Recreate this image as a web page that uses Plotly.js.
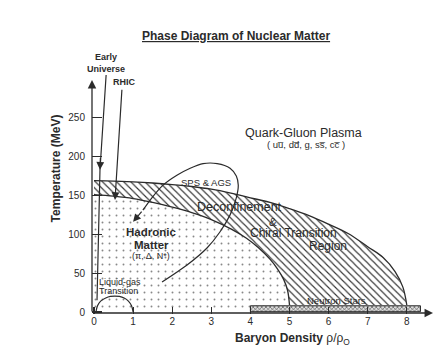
<!DOCTYPE html>
<html>
<head>
<meta charset="utf-8">
<script src="https://cdn.plot.ly/plotly-3.0.1.min.js"></script>
<style>html,body{margin:0;padding:0;background:#fff;}#chart{width:436px;height:348px;}</style>
</head>
<body>
<div id="chart"></div>
<script>
// ---- data (rho/rho0, T in MeV) ----
var outerRho = [0, 0.5, 1.0, 1.5, 2.0, 2.5, 3.0, 3.5, 4.0, 4.5, 5.0, 5.5, 6.0, 6.5, 7.0, 7.4, 7.7, 7.9, 8.0];
var outerT   = [169, 168.5, 167.5, 166, 164, 161.5, 158, 153, 147, 141, 133, 124, 113, 101, 84, 70, 52, 32, 9];
var innerRho = [0, 0.5, 1.0, 1.5, 2.0, 2.5, 3.0, 3.5, 3.9, 4.2, 4.5, 4.7, 4.85, 4.95, 5.0];
var innerT   = [151, 149, 146, 141, 135, 128, 119, 107, 95, 83, 68, 55, 42, 28, 9];
var lgRho = [0.05, 0.09, 0.17, 0.3, 0.42, 0.53, 0.65, 0.77, 0.88, 0.96, 1.0];
var lgT   = [0, 8, 14, 18, 20, 20.5, 20, 18, 14, 8, 0];
var spsRho = [1.74, 2.38, 2.89, 3.22, 3.48, 3.64, 3.69, 3.64, 3.48, 3.15, 2.79, 2.46, 2.12, 1.76, 1.48, 1.25];
var spsT   = [38.6, 60.5, 82.4, 103, 125, 147, 163, 175, 185, 191, 191, 185, 176, 163, 147, 131];
var spsTip = [1.0, 116];
var euRho = [0.31, 0.153, 0.077];
var euT   = [305, 183, 15];
var rhicFrom = [0.716, 288];
var rhicTo   = [0.537, 144];
var nsRho = [4.0, 8.35];
var nsT   = [0.4, 8];
var xTicks = [0, 1, 2, 3, 4, 5, 6, 7, 8];
var yTicks = [0, 50, 100, 150, 200, 250];

var ink = '#2b2b2b';
var F = 'Liberation Sans, Arial, sans-serif';

// polygons built from the arrays
var bandX = outerRho.concat(innerRho.slice().reverse());
var bandY = outerT.concat(innerT.slice().reverse());
var hadX = [0].concat(innerRho, [innerRho[innerRho.length-1], 0]);
var hadY = [0].concat(innerT, [0, 0]);
var nsX = [nsRho[0], nsRho[1], nsRho[1], nsRho[0], nsRho[0]];
var nsY = [nsT[0], nsT[0], nsT[1], nsT[1], nsT[0]];

var traces = [
  {x: hadX, y: hadY, mode: 'lines', fill: 'toself', line: {width: 0},
   fillcolor: 'rgba(0,0,0,0)',
   fillpattern: {shape: '.', size: 7, solidity: 0.06, fgcolor: '#888', bgcolor: 'rgba(255,255,255,0)'}},
  {x: bandX, y: bandY, mode: 'lines', fill: 'toself', line: {width: 0},
   fillcolor: 'rgba(0,0,0,0)',
   fillpattern: {shape: '\\', size: 5, solidity: 0.22, fgcolor: '#333', bgcolor: '#fff'}},
  {x: outerRho, y: outerT, mode: 'lines', line: {color: ink, width: 1.3, shape: 'spline'}},
  {x: innerRho, y: innerT, mode: 'lines', line: {color: ink, width: 1.3, shape: 'spline'}},
  {x: nsX, y: nsY, mode: 'lines', fill: 'toself', line: {color: ink, width: 1},
   fillcolor: 'rgba(0,0,0,0)',
   fillpattern: {shape: 'x', size: 3, solidity: 0.35, fgcolor: '#444', bgcolor: '#ddd'}},
  {x: lgRho, y: lgT, mode: 'lines', line: {color: ink, width: 1.2, shape: 'spline'}},
  {x: spsRho, y: spsT, mode: 'lines', line: {color: ink, width: 1.2, shape: 'spline', smoothing: 0.8}},
  {x: euRho, y: euT, mode: 'lines', line: {color: ink, width: 1.2}}
];

function txt(x, y, t, size, extra) {
  var a = {x: x, y: y, xref: 'x', yref: 'y', text: t, showarrow: false,
           xanchor: 'center', yanchor: 'middle',
           font: {family: F, size: size, color: ink}};
  for (var k in extra) a[k] = extra[k];
  return a;
}

var annotations = [
  // axis arrows
  {xref: 'paper', x: 0, yref: 'y', y: 298.6, axref: 'pixel', ax: 0, ayref: 'y', ay: -1.3,
   showarrow: true, arrowhead: 2, arrowsize: 1.3, arrowwidth: 1.3, arrowcolor: ink, text: ''},
  {xref: 'x', x: 8.67, yref: 'y', y: -1.3, axref: 'x', ax: -0.03, ayref: 'y', ay: -1.3,
   showarrow: true, arrowhead: 2, arrowsize: 1.3, arrowwidth: 1.3, arrowcolor: ink, text: ''},
  // trajectory arrowheads
  {x: euRho[1], y: euT[1], axref: 'x', ayref: 'y', ax: 0.165, ay: 200,
   showarrow: true, arrowhead: 2, arrowsize: 1.3, arrowwidth: 1.2, arrowcolor: ink, text: ''},
  {x: rhicTo[0], y: rhicTo[1], axref: 'x', ayref: 'y', ax: rhicFrom[0], ay: rhicFrom[1],
   showarrow: true, arrowhead: 2, arrowsize: 1.3, arrowwidth: 1.2, arrowcolor: ink, text: ''},
  {x: spsTip[0], y: spsTip[1], axref: 'x', ayref: 'y', ax: spsRho[spsRho.length-1], ay: spsT[spsT.length-1],
   showarrow: true, arrowhead: 2, arrowsize: 1.3, arrowwidth: 1.2, arrowcolor: ink, text: ''},
  // labels
  {xref: 'paper', yref: 'paper', x: 0.419, y: 1.03, xanchor: 'center', yanchor: 'middle', showarrow: false,
   text: '<b><u>Phase Diagram of Nuclear Matter</u></b>', font: {family: F, size: 12, color: ink}},
  txt(0.307, 320.5, '<b>Early<br>Universe</b>', 9, {}),
  txt(0.79, 296, '<b>RHIC</b>', 9, {}),
  txt(5.37, 230, 'Quark-Gluon Plasma', 12.5, {}),
  txt(5.42, 215, '( uu\u0305, dd\u0305, g, ss\u0305, cc\u0305 )', 9.5, {}),
  txt(2.86, 167, 'SPS &amp; AGS', 9.5, {}),
  txt(3.71, 135.5, 'Deconfinement', 12.5, {}),
  txt(4.58, 116, '&amp;', 11.5, {}),
  txt(5.09, 101.5, 'Chiral Transition', 12, {}),
  txt(5.98, 85.5, 'Region', 12, {}),
  txt(1.46, 102.5, '<b>Hadronic</b>', 11.5, {}),
  txt(1.48, 86, '<b>Matter</b>', 11.5, {}),
  txt(1.46, 72, '(\u03c0, \u0394, N*)', 9, {}),
  txt(0.077, 38.6, 'Liquid-gas', 9, {xanchor: 'left'}),
  txt(0.077, 27, 'Transition', 9, {xanchor: 'left'}),
  txt(6.21, 15.4, 'Neutron Stars', 9.5, {}),
  {xref: 'paper', yref: 'paper', x: -0.102, y: 0.539, xanchor: 'center', yanchor: 'middle',
   showarrow: false, textangle: -90,
   text: '<b>Temperature (MeV)</b>', font: {family: F, size: 12, color: ink}},
  {xref: 'paper', yref: 'paper', x: 0.584, y: -0.094, xanchor: 'center', yanchor: 'middle', showarrow: false,
   text: '<b>Baryon Density</b> \u03c1/\u03c1<sub>O</sub>', font: {family: F, size: 12, color: ink}}
];

var layout = {
  width: 436, height: 348,
  margin: {l: 92, r: 0, t: 44, b: 34, pad: 0},
  paper_bgcolor: '#fff', plot_bgcolor: 'rgba(0,0,0,0)',
  showlegend: false,
  xaxis: {range: [-0.0512, 8.747], tickvals: xTicks, ticktext: xTicks.map(String),
          ticks: 'inside', ticklen: 7, tickwidth: 1.2, tickcolor: ink,
          showgrid: false, zeroline: false, showline: false,
          tickfont: {family: F, size: 10, color: ink}},
  yaxis: {range: [-2.57, 344.9], tickvals: yTicks, ticktext: yTicks.map(String),
          ticks: 'inside', ticklen: 10, tickwidth: 1.2, tickcolor: ink,
          ticklabelstandoff: 6,
          showgrid: false, zeroline: false, showline: false,
          tickfont: {family: F, size: 10, color: ink}},
  annotations: annotations
};

Plotly.newPlot('chart', traces, layout, {staticPlot: true, displayModeBar: false});
</script>
</body>
</html>
